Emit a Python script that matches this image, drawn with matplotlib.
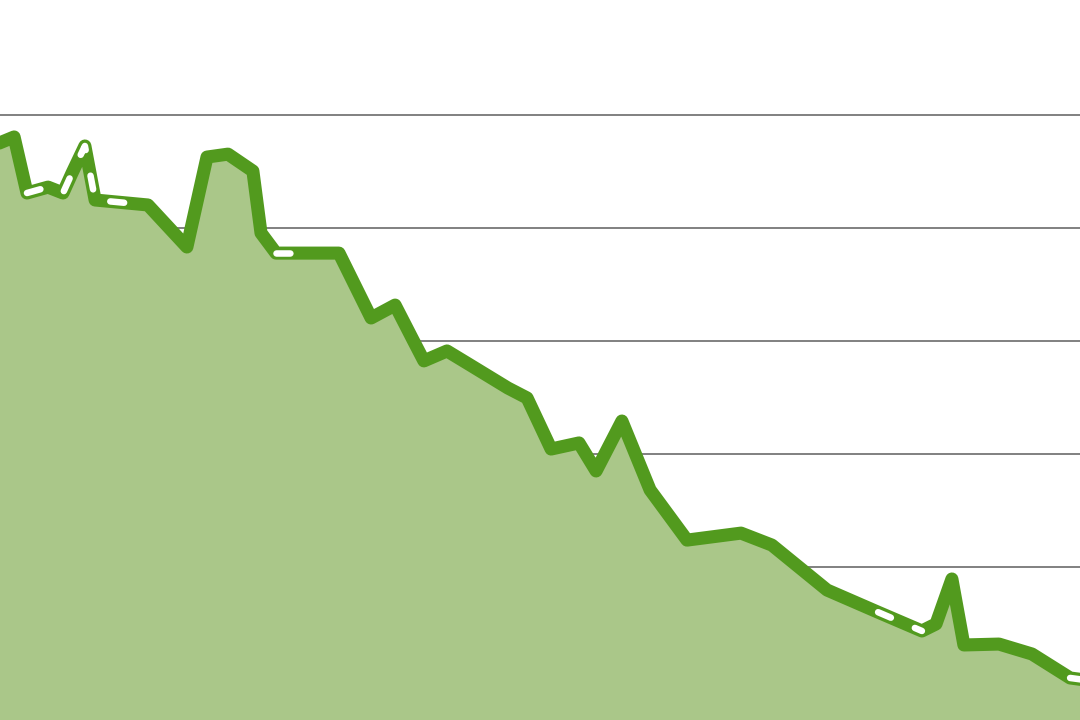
import numpy as np
import matplotlib
matplotlib.use("Agg")
import matplotlib.pyplot as plt

plt.rcParams['lines.scale_dashes'] = False

# day of year for each reading (first and last are just outside the view)
days = [-5.0, 4.7, 9.0, 16.0, 21.0, 24.0, 28.3, 31.7, 49.3, 62.3,
        69.0, 76.0, 84.3, 87.0, 92.0, 98.7, 113.0, 123.7, 131.7, 137.7,
        141.3, 149.0, 156.7, 169.3, 175.7, 183.7, 193.0, 198.7, 207.3, 216.7,
        229.0, 247.0, 257.3, 275.7, 292.7, 307.3, 312.0, 317.3, 321.3, 333.0,
        344.0, 356.7, 366.7]
values = [285.0, 290.3, 265.5, 268.1, 265.5, 274.3, 286.3, 262.4, 260.2, 241.6,
          281.4, 282.7, 275.2, 247.8, 238.9, 238.9, 238.9, 210.2, 215.9, 200.4,
          191.2, 195.6, 189.4, 179.2, 174.8, 152.2, 154.9, 142.5, 164.6, 134.1,
          111.9, 115.0, 109.7, 89.8, 80.0, 71.7, 74.8, 94.7, 65.5, 65.9,
          61.5, 50.9, 49.1]
# readings marked as estimated (drawn with the white dashed overlay)
estimated = [False, False, True, True, True, True, True, True, True, False,
             False, False, False, False, True, True, False, False, False, False,
             False, False, False, False, False, False, False, False, False, False,
             False, False, False, False, True, True, False, False, False, False,
             False, True, True]
grid_levels = [50, 100, 150, 200, 250, 300]

x = np.array(days)
y = np.array(values)
est = np.array(estimated)

fig = plt.figure(figsize=(10.8, 7.2), dpi=100)
ax = fig.add_axes([0, 0, 1, 1])

ax.fill_between(x, y, 0, color='#aac789', linewidth=0, zorder=1)
ax.plot(x, y, color='#529a1e', linewidth=9.4, solid_joinstyle='round',
        solid_capstyle='round', zorder=2)

# white dashes over each run of estimated readings
i = 0
while i < len(est):
    if est[i]:
        j = i
        while j + 1 < len(est) and est[j + 1]:
            j += 1
        if j > i:
            ax.plot(x[i:j + 1], y[i:j + 1], color='white', linewidth=4.7,
                    linestyle=(0, (10.0, 18.8)), dash_capstyle='round', zorder=3)
        i = j + 1
    else:
        i += 1

ax.set_xlim(0, 360)
ax.set_ylim(32.3, 350.9)
ax.set_yticks(grid_levels)
ax.yaxis.grid(True, color='#808080', linewidth=1.4)
ax.xaxis.grid(False)
ax.set_axisbelow(True)
ax.tick_params(length=0, labelleft=False, labelbottom=False)
for s in ax.spines.values():
    s.set_visible(False)

plt.savefig("out.png", dpi=100)
plt.close()
